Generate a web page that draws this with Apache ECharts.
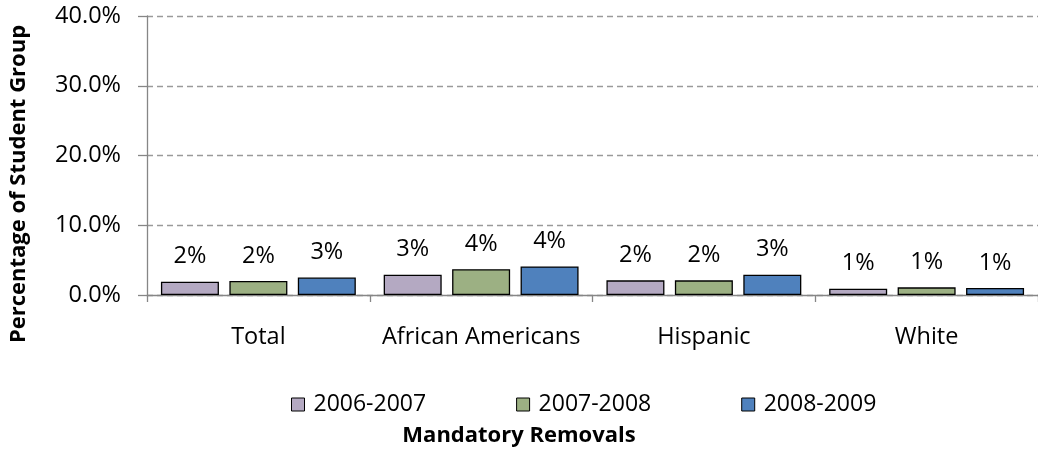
<!DOCTYPE html>
<html>
<head>
<meta charset="utf-8">
<script src="https://cdn.jsdelivr.net/npm/echarts@6/dist/echarts.min.js"></script>
<style>
html,body{margin:0;padding:0;background:#fff;}
#chart{width:1038px;height:454px;}
</style>
</head>
<body>
<div id="chart"></div>
<script>
var categories = ['Total', 'African Americans', 'Hispanic', 'White'];
var seriesNames = ['2006-2007', '2007-2008', '2008-2009'];
var values2006 = [1.9, 2.9, 2.1, 0.9];
var values2007 = [2.0, 3.7, 2.1, 1.1];
var values2008 = [2.5, 4.1, 2.9, 1.0];
var seriesColors = ['#B4A9C2', '#9CB083', '#4F81BD'];
var yTicks = [0, 10, 20, 30, 40];

var FONT = 'Open Sans';
var chart = echarts.init(document.getElementById('chart'));

function makeSeries(name, data, color) {
  return {
    name: name,
    type: 'bar',
    data: data,
    barWidth: 58,
    barGap: '18%',
    itemStyle: { color: color, borderColor: '#000', borderWidth: 1.3 },
    label: {
      show: true,
      position: 'top',
      distance: 13,
      color: '#000',
      fontFamily: FONT,
      fontSize: 23.5,
      formatter: function (p) { return Math.round(p.value) + '%'; }
    }
  };
}

chart.setOption({
  animation: false,
  backgroundColor: '#fff',
  grid: { left: 147, right: -8, top: 16, bottom: 159 },
  title: {
    text: 'Mandatory Removals',
    left: 'center',
    top: 420,
    textStyle: { fontFamily: FONT, fontWeight: 'bold', fontSize: 22, color: '#000' }
  },
  legend: {
    data: seriesNames,
    left: 291,
    top: 393,
    padding: 0,
    icon: 'rect',
    itemWidth: 13,
    itemHeight: 13,
    itemGap: 90,
    itemStyle: { borderColor: '#000', borderWidth: 1 },
    textStyle: { fontFamily: FONT, fontSize: 23, color: '#000', padding: [0, 0, 0, 4] }
  },
  graphic: [{
    type: 'text',
    x: 19,
    y: 184,
    rotation: Math.PI / 2,
    style: {
      text: 'Percentage of Student Group',
      fontFamily: FONT,
      fontWeight: 'bold',
      fontSize: 22,
      fill: '#000',
      align: 'center',
      verticalAlign: 'middle'
    }
  }],
  xAxis: {
    type: 'category',
    data: categories,
    axisLine: { lineStyle: { color: '#868686', width: 1.3 } },
    axisTick: { show: true, length: 7, lineStyle: { color: '#868686', width: 1.3 } },
    axisLabel: { color: '#000', fontFamily: FONT, fontSize: 23.5, margin: 30, interval: 0 }
  },
  yAxis: {
    type: 'value',
    min: yTicks[0],
    max: yTicks[yTicks.length - 1],
    interval: 10,
    axisLine: { show: true, lineStyle: { color: '#868686', width: 1.3 } },
    axisTick: { show: true, length: 9, lineStyle: { color: '#868686', width: 1.3 } },
    axisLabel: {
      color: '#000', fontFamily: FONT, fontSize: 23.5, margin: 26,
      formatter: function (v) { return v.toFixed(1) + '%'; }
    },
    splitLine: { show: true, lineStyle: { color: '#9a9a9a', type: [6, 4], width: 1.3 } }
  },
  series: [
    makeSeries(seriesNames[0], values2006, seriesColors[0]),
    makeSeries(seriesNames[1], values2007, seriesColors[1]),
    makeSeries(seriesNames[2], values2008, seriesColors[2])
  ]
});
</script>
</body>
</html>
